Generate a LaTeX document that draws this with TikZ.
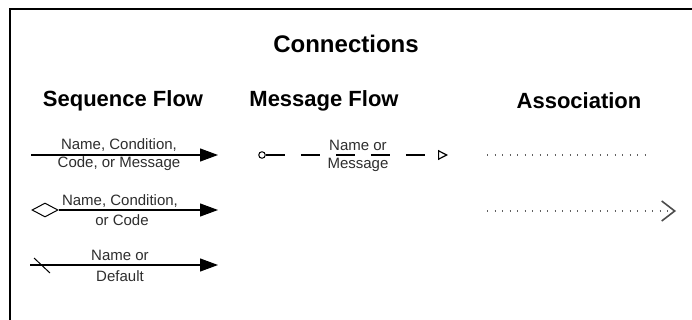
\documentclass[tikz,border=0pt]{standalone}
\usepackage{fontspec}
\setmainfont{Liberation Sans}
\usetikzlibrary{arrows.meta,shapes.geometric}

\definecolor{labelgray}{HTML}{2E2E2E}
\definecolor{dotgray}{HTML}{606060}

\tikzset{
  heading/.style={font=\bfseries\fontsize{22}{24}\selectfont, inner sep=0pt, anchor=center},
  title/.style={font=\bfseries\fontsize{24}{26}\selectfont, inner sep=0pt, anchor=center},
  lbl/.style={font=\fontsize{15}{17}\selectfont, text=labelgray, inner sep=0pt, anchor=center},
  seqline/.style={line width=1.1pt, -{Triangle[length=18pt,width=13pt]}},
  msgline/.style={line width=1.1pt, dash pattern=on 19pt off 16pt, -{Triangle[open,length=10pt,width=10pt,line width=1.2pt]}},
  assocline/.style={dotgray, line width=1.3pt, dash pattern=on 1.3pt off 6.2pt},
  assocarrow/.style={-{Straight Barb[length=13pt,width=20pt,line width=1.6pt,color=black!70]}},
  frame/.style={line width=2pt}
}

\begin{document}
\begin{tikzpicture}[x=1pt, y=-1pt]
  \useasboundingbox (0,0) rectangle (692,320);
  \fill[white] (0,0) rectangle (692,320);

  % frame (open towards right and bottom)
  \draw[frame] (10,330) -- (10,9) -- (700,9);

  % titles
  \node[title] (tconn) at (346,44) {Connections};
  \node[heading] (hseq) at (123,101) {Sequence Flow};
  \node[heading] (hmsg) at (324,101) {Message Flow};
  \node[heading] (hasc) at (579,101) {Association};

  % --- sequence flow: normal
  \coordinate (s1a) at (31,155);
  \coordinate (s1b) at (218,155);
  \draw[seqline] (s1a) -- (s1b);
  \node[lbl] (l1a) at (119,145) {Name, Condition,};
  \node[lbl] (l1b) at (119,164) {Code, or Message};

  % --- sequence flow: conditional (diamond start)
  \node[draw, diamond, line width=1pt, inner sep=0pt, minimum width=26pt, minimum height=14pt] (d2) at (45,210) {};
  \coordinate (s2b) at (218,210);
  \draw[seqline] (d2.east) -- (s2b);
  \node[lbl] (l2a) at (120,201) {Name, Condition,};
  \node[lbl] (l2b) at (122,220) {or Code};

  % --- sequence flow: default (slash mark)
  \coordinate (s3a) at (30,265);
  \coordinate (s3b) at (218,265);
  \draw[seqline] (s3a) -- (s3b);
  \coordinate (x3a) at (34,258);
  \coordinate (x3b) at (50,273);
  \draw[line width=1pt] (x3a) -- (x3b);
  \node[lbl] (l3a) at (120,255) {Name or};
  \node[lbl] (l3b) at (120,276) {Default};

  % --- message flow
  \node[draw, circle, line width=1pt, inner sep=0pt, minimum size=6.5pt] (mc) at (262,155) {};
  \coordinate (mt) at (448,155);
  \draw[msgline] (mc.east) -- (mt);
  \node[lbl] (ml1) at (358,145) {Name or};
  \node[lbl] (ml2) at (358,165) {Message};

  % --- association: undirected
  \coordinate (a1a) at (487,155);
  \coordinate (a1b) at (646,155);
  \draw[assocline] (a1a) -- (a1b);

  % --- association: directed
  \coordinate (a2a) at (487,211);
  \coordinate (a2b) at (676,211);
  \draw[assocline, assocarrow] (a2a) -- (a2b);
\end{tikzpicture}
\end{document}
